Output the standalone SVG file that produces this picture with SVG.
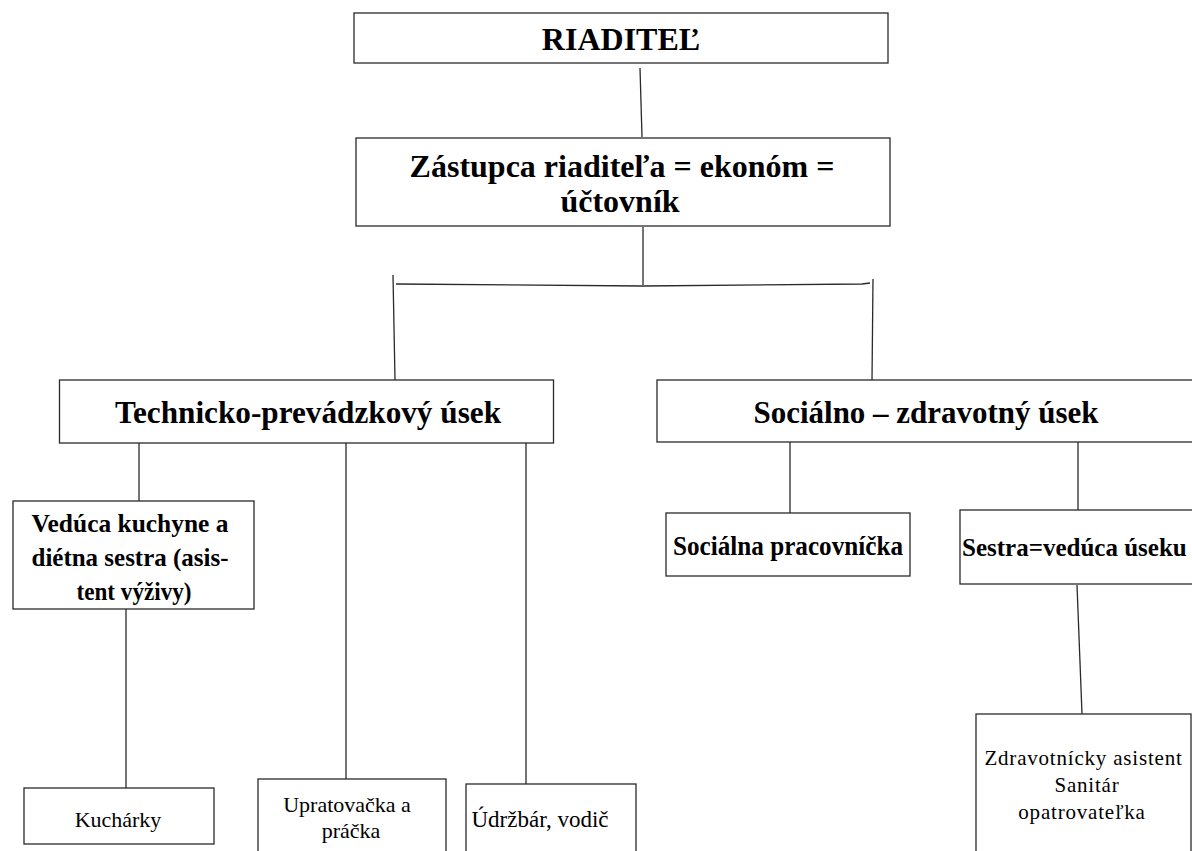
<svg xmlns="http://www.w3.org/2000/svg" width="1192" height="851" viewBox="0 0 1192 851">
<style>
.box{fill:#fff;stroke:#2a2a2a;stroke-width:1.3}
.ln{fill:none;stroke:#2a2a2a;stroke-width:1.3}
.b{font-family:"Liberation Serif","Times New Roman",serif;font-weight:bold;fill:#000;text-anchor:middle}
.r{font-family:"Liberation Serif","Times New Roman",serif;fill:#000;text-anchor:middle}
</style>
<rect width="1192" height="851" fill="#fff"/>
<g id="connectors">
<line class="ln" x1="640" y1="68" x2="642" y2="137"/>
<line class="ln" x1="643" y1="227" x2="643" y2="285"/>
<polyline class="ln" points="396,284 643,286 862,284 870,283"/>
<line class="ln" x1="393" y1="275" x2="395" y2="380"/>
<line class="ln" x1="873" y1="279" x2="872" y2="380"/>
<line class="ln" x1="139" y1="443" x2="139" y2="501"/>
<line class="ln" x1="346" y1="443" x2="346" y2="779"/>
<line class="ln" x1="526" y1="443" x2="526" y2="784"/>
<line class="ln" x1="126" y1="609" x2="126" y2="788"/>
<line class="ln" x1="790" y1="442" x2="790" y2="513"/>
<line class="ln" x1="1078" y1="442" x2="1078" y2="510"/>
<line class="ln" x1="1077" y1="585" x2="1082" y2="714"/>
</g>
<g id="riaditel">
<rect class="box" x="354" y="13" width="534" height="50"/>
<text class="b" x="621" y="50" font-size="32">RIADITEĽ</text>
</g>
<g id="zastupca">
<rect class="box" x="356" y="138" width="534" height="88"/>
<text class="b" x="622" y="177" font-size="32">Zástupca riaditeľa = ekonóm =</text>
<text class="b" x="620" y="212" font-size="32">účtovník</text>
</g>
<g id="technicko">
<rect class="box" x="59.5" y="380" width="494" height="63"/>
<text class="b" x="308" y="423" font-size="32" textLength="386" lengthAdjust="spacingAndGlyphs">Technicko-prevádzkový úsek</text>
</g>
<g id="socialno">
<rect class="box" x="657" y="380" width="560" height="62"/>
<text class="b" x="926" y="423" font-size="32" textLength="345" lengthAdjust="spacingAndGlyphs">Sociálno – zdravotný úsek</text>
</g>
<g id="veduca">
<rect class="box" x="13" y="501" width="241" height="108"/>
<text class="b" x="130" y="532" font-size="26" textLength="197" lengthAdjust="spacingAndGlyphs">Vedúca kuchyne a</text>
<text class="b" x="130" y="566" font-size="26" textLength="197" lengthAdjust="spacingAndGlyphs">diétna sestra (asis-</text>
<text class="b" x="134" y="600" font-size="26" textLength="115" lengthAdjust="spacingAndGlyphs">tent výživy)</text>
</g>
<g id="socialna">
<rect class="box" x="666" y="513" width="244" height="63"/>
<text class="b" x="788" y="555" font-size="28" textLength="230" lengthAdjust="spacingAndGlyphs">Sociálna pracovníčka</text>
</g>
<g id="sestra">
<rect class="box" x="960" y="510" width="260" height="74"/>
<text class="b" x="962" y="556" font-size="25" style="text-anchor:start">Sestra=vedúca úseku</text>
</g>
<g id="kucharky">
<rect class="box" x="24" y="788" width="190" height="56"/>
<text class="r" x="118" y="827" font-size="22">Kuchárky</text>
</g>
<g id="upratovacka">
<rect class="box" x="258" y="779" width="188" height="90"/>
<text class="r" x="347" y="812" font-size="22">Upratovačka a</text>
<text class="r" x="351" y="838" font-size="22">práčka</text>
</g>
<g id="udrzbar">
<rect class="box" x="466" y="784" width="170" height="90"/>
<text class="r" x="540" y="827" font-size="23">Údržbár, vodič</text>
</g>
<g id="zdravotnicky">
<rect class="box" x="976" y="714" width="215" height="160"/>
<text class="r" x="1083.5" y="765" font-size="21" letter-spacing="0.8">Zdravotnícky asistent</text>
<text class="r" x="1087" y="792" font-size="21" letter-spacing="0.8">Sanitár</text>
<text class="r" x="1082" y="819" font-size="21" letter-spacing="0.8">opatrovateľka</text>
</g>
</svg>
